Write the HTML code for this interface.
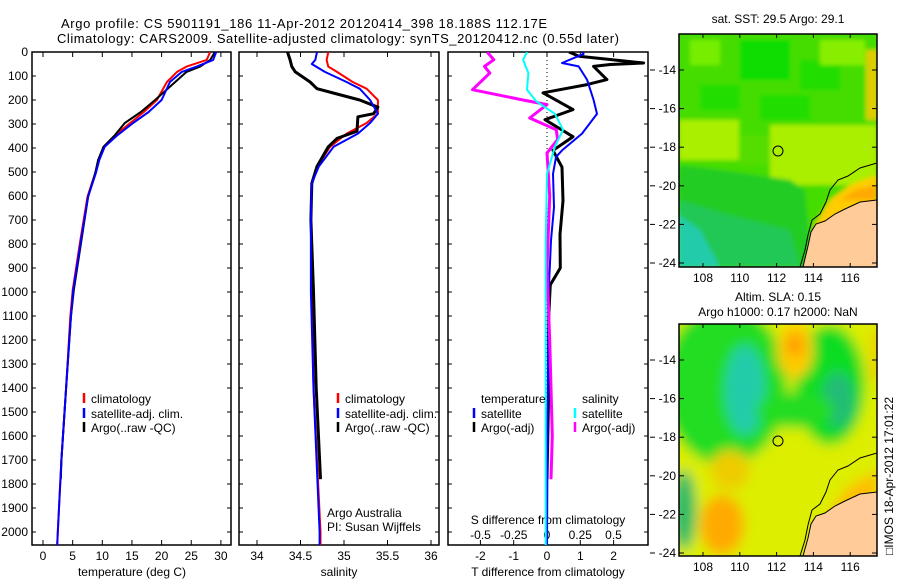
<!DOCTYPE html>
<html><head><meta charset="utf-8"><style>
html,body{margin:0;padding:0;background:#fff;}
svg{display:block;font-family:"Liberation Sans",sans-serif;}
</style></head><body>
<svg id="fig" width="900" height="580" viewBox="0 0 900 580">
<defs>
<filter id="b1" x="-5%" y="-5%" width="110%" height="110%"><feGaussianBlur stdDeviation="2"/></filter>
<filter id="b2" x="-10%" y="-10%" width="120%" height="120%"><feGaussianBlur stdDeviation="6"/></filter>
<clipPath id="cm1"><rect x="679" y="34" width="198" height="233"/></clipPath>
<clipPath id="cm2"><rect x="679" y="324" width="198" height="232"/></clipPath>
<clipPath id="cp1"><rect x="32" y="52" width="199" height="493"/></clipPath>
<clipPath id="cp2"><rect x="239" y="52" width="200" height="493"/></clipPath>
<clipPath id="cp3"><rect x="448" y="52" width="200" height="493"/></clipPath>
</defs>
<g font-size="13" fill="#000">
<text x="61" y="28" textLength="486">Argo profile: CS 5901191_186 11-Apr-2012 20120414_398 18.188S 112.17E</text>
<text x="57" y="43" textLength="562">Climatology: CARS2009. Satellite-adjusted climatology: synTS_20120412.nc (0.55d later)</text>
</g>
<g id="panels"></g>

<!-- top map -->
<g>
<g clip-path="url(#cm1)">
<g filter="url(#b1)">
<rect x="670" y="25" width="215" height="250" fill="#44dd00"/>
<rect x="690" y="40" width="30" height="25" fill="#77ee00"/>
<rect x="740" y="40" width="50" height="40" fill="#11dd00"/>
<rect x="800" y="60" width="40" height="30" fill="#22dd00"/>
<rect x="700" y="85" width="40" height="25" fill="#22dd00"/>
<rect x="820" y="40" width="45" height="25" fill="#88ee00"/>
<rect x="760" y="95" width="50" height="25" fill="#22dd00"/>
<rect x="679" y="120" width="60" height="40" fill="#aaee00"/>
<rect x="770" y="125" width="107" height="60" fill="#aaee00"/>
<rect x="740" y="135" width="30" height="30" fill="#55dd00"/>
<rect x="866" y="50" width="12" height="70" fill="#ddcc00"/>
<polygon points="679,165 720,170 790,180 805,190 812,267 679,267" fill="#22cc22"/>
<polygon points="679,200 730,215 790,230 800,267 679,267" fill="#22c855"/>
<polygon points="679,215 700,230 720,267 679,267" fill="#22ccaa"/>
<polygon points="877,175 850,185 830,200 815,225 808,267 830,267 877,200" fill="#ffcc00"/>
<polygon points="877,185 855,190 840,200 877,200" fill="#ffaa00"/>
</g>
<polygon points="877,200 860,202 845,209 835,214 825,221 816,224 811,232 808,246 803,267 877,267" fill="#ffcc99"/>
<polyline points="877,163 860,168 848,176 838,180 830,190 826,202 820,214 812,220 808,235 805,250 800,267" fill="none" stroke="#000" stroke-width="1"/>
<polyline points="877,200 860,202 845,209 835,214 825,221 816,224 811,232 808,246 803,267" fill="none" stroke="#000" stroke-width="1"/>
</g>
<circle cx="778" cy="151" r="5" fill="none" stroke="#000" stroke-width="1"/>
<rect x="679" y="34" width="198" height="233" fill="none" stroke="#000" stroke-width="1.5"/>
</g>

<!-- bottom map -->
<g>
<g clip-path="url(#cm2)">
<g filter="url(#b2)">
<rect x="660" y="310" width="230" height="260" fill="#ddee00"/>
<ellipse cx="725" cy="385" rx="62" ry="80" fill="#22dd22"/>
<ellipse cx="745" cy="390" rx="20" ry="45" fill="#22ccaa"/>
<ellipse cx="830" cy="385" rx="35" ry="60" fill="#11dd22"/>
<ellipse cx="838" cy="400" rx="16" ry="28" fill="#22bb77"/>
<ellipse cx="795" cy="410" rx="40" ry="18" fill="#22dd22"/>
<ellipse cx="795" cy="350" rx="18" ry="28" fill="#ffcc00"/>
<ellipse cx="795" cy="345" rx="8" ry="12" fill="#ff9900"/>
<rect x="870" y="330" width="10" height="50" fill="#eecc00"/>
<ellipse cx="684" cy="510" rx="12" ry="40" fill="#22bb66"/>
<ellipse cx="722" cy="525" rx="22" ry="30" fill="#ffaa00"/>
<ellipse cx="730" cy="470" rx="20" ry="20" fill="#eecc00"/>
<polygon points="877,470 845,490 820,530 815,556 877,556" fill="#ffbb00"/>
</g>
<polygon points="877,492 860,494 845,501 835,506 825,513 816,516 811,524 808,538 803,556 877,556" fill="#ffcc99"/>
<polyline points="877,453 860,458 848,466 838,470 830,480 826,492 820,504 812,510 808,525 805,540 800,556" fill="none" stroke="#000" stroke-width="1"/>
<polyline points="877,492 860,494 845,501 835,506 825,513 816,516 811,524 808,538 803,556" fill="none" stroke="#000" stroke-width="1"/>
</g>
<circle cx="778" cy="441" r="5" fill="none" stroke="#000" stroke-width="1"/>
<rect x="679" y="324" width="198" height="232" fill="none" stroke="#000" stroke-width="1.5"/>
</g>
<g id="mapaxes" font-size="12"></g>
<text x="778" y="23" font-size="12" text-anchor="middle">sat. SST: 29.5 Argo: 29.1</text>
<text x="778" y="301" font-size="12" text-anchor="middle">Altim. SLA: 0.15</text>
<text x="778" y="316" font-size="12" text-anchor="middle">Argo h1000: 0.17 h2000: NaN</text>
<text transform="translate(893,555) rotate(-90)" font-size="12">□IMOS 18-Apr-2012 17:01:22</text>
</svg>
<script>
// ---- data ----
const depthsClim = [0,33,61,83,125,200,250,296,350,395,450,505,603,783,992,1104,1400,1700,2000,2055];
const tempClim  = [28.2,27.6,24.2,22.6,20.9,19.2,17.0,14.7,12.0,10.2,9.4,8.8,7.5,6.3,5.0,4.6,3.9,3.1,2.5,2.4];
const tempSat   = [29.2,28.7,25.9,23.4,21.4,20.0,17.8,15.2,12.4,10.4,9.5,8.9,7.6,6.4,5.1,4.7,3.9,3.1,2.5,2.4];
const depthsArgo = [0,33,61,83,125,200,250,296,350,395,450,505,603,783,992,1104,1400,1700,1780];
const tempArgo  = [29.0,28.2,26.5,24.2,22.3,18.9,16.5,13.8,12.0,10.2,9.3,8.8,7.6,6.5,5.2,4.7,3.9,3.1,3.0];
const salDepthsClim = [0,33,61,83,125,153,200,257,296,340,395,477,547,700,1000,1400,2000,2055];
const salClim = [34.82,34.80,34.82,34.92,35.10,35.26,35.39,35.39,35.26,35.03,34.84,34.69,34.63,34.62,34.63,34.65,34.73,34.73];
const salDepthsSat = [0,33,50,83,125,153,200,257,296,340,395,477,547,700,1000,1400,2000,2055];
const salSat = [34.69,34.67,34.63,34.78,35.03,35.18,35.30,35.39,35.30,35.16,34.88,34.71,34.63,34.62,34.62,34.65,34.72,34.72];
const salDepthsArgo = [0,33,61,83,125,153,175,200,230,257,270,330,360,395,477,547,700,1000,1400,1700,1780];
const salArgo = [34.35,34.38,34.40,34.44,34.61,34.69,34.92,35.18,35.39,35.34,35.16,35.15,34.92,34.82,34.69,34.63,34.62,34.65,34.68,34.72,34.73];
const dTDepthsSat = [0,8,46,60,115,200,258,340,410,438,508,647,785,1000,1500,2055];
const dTSat = [1.05,1.1,0.45,0.95,1.2,1.4,1.5,1.05,0.45,0.27,0.18,0.21,0.12,0.05,0.02,0.0];
const dTDepthsArgo = [0,18,40,46,52,60,115,136,170,240,282,353,410,480,620,760,900,970,1100,1400,1780];
const dTArgo = [0.66,0.96,2.5,2.9,1.9,1.4,1.8,1.2,-0.12,0.78,-0.06,0.78,0.18,0.45,0.48,0.39,0.4,0.1,0.05,0.05,0.0];
const dSDepthsArgo = [0,32,60,88,157,200,219,275,324,365,421,600,900,1200,1600,1780];
const dSArgo = [-0.45,-0.4,-0.47,-0.43,-0.56,-0.18,0.0,-0.13,0.07,0.08,0.0,0.02,0.0,0.02,0.04,0.03];
const dSDepthsSat = [0,32,88,157,206,258,324,393,508,800,1200,1600,2055];
const dSSat = [-0.15,-0.18,-0.14,-0.15,-0.08,0.06,0.12,0.06,0.0,-0.01,-0.01,-0.01,-0.01];
const depthTicks = [0,100,200,300,400,500,600,700,800,900,1000,1100,1200,1300,1400,1500,1600,1700,1800,1900,2000];
const tempTicks = [0,5,10,15,20,25,30];
const salTicks = [34,34.5,35,35.5,36];
const dTTicks = [-2,-1,0,1,2];
const dSTicks = [-0.5,-0.25,0,0.25,0.5];
const dSTickLabels = ["-0.5","-0.25","0","0.25","0.5"];
const latTicks = [-14,-16,-18,-20,-22,-24];
const lonTicks = [108,110,112,114,116];

// ---- axes ----
const yD = d => 52 + d*0.24;
const xT = t => 43 + t*5.93;
const xS = s => 257 + (s-34)*87;
const xDT = v => 547 + v*33.3;
const xDS = v => 547 + v*133;
const NS='http://www.w3.org/2000/svg';
const G=document.getElementById('panels');
function mk(tag,attrs,parent){const e=document.createElementNS(NS,tag);for(const k in attrs)e.setAttribute(k,attrs[k]);(parent||G).appendChild(e);return e;}
function txt(x,y,s,anchor,size,parent){const t=mk('text',{x:x,y:y,'text-anchor':anchor||'middle','font-size':size||12},parent);t.textContent=s;return t;}

const boxes=[[32,231,'temperature-panel'],[239,439,'salinity-panel'],[448,648,'difference-panel']];
boxes.forEach(b=>{
  const r=mk('rect',{x:b[0],y:52,width:b[1]-b[0],height:493,fill:'none',stroke:'#000','stroke-width':1.5});
  
  
  depthTicks.forEach(d=>{
    mk('line',{x1:b[0],x2:b[0]+4,y1:yD(d),y2:yD(d),stroke:'#000'});
    mk('line',{x1:b[1],x2:b[1]-4,y1:yD(d),y2:yD(d),stroke:'#000'});
  });
});
depthTicks.forEach(d=>{
  const t=txt(28,yD(d)+4,String(d),'end',12);
  
  
});
function xticks(vals,fx,labels,ylab){
  vals.forEach((v,i)=>{
    const x=fx(v);
    mk('line',{x1:x,x2:x,y1:545,y2:540,stroke:'#000'});
    mk('line',{x1:x,x2:x,y1:52,y2:57,stroke:'#000'});
    if(labels){const t=txt(x,ylab,labels[i],'middle',12);
      
      }
  });
}
xticks(tempTicks,xT,tempTicks.map(String),560);
xticks(salTicks,xS,salTicks.map(String),560);
xticks(dTTicks,xDT,dTTicks.map(String),560);
dSTicks.forEach((v,i)=>{const t=txt(xDS(v),539,dSTickLabels[i],'middle',12);
  
  });
[['temperature (deg C)',132,'temperature-axis-title'],['salinity',339,'salinity-axis-title'],['T difference from climatology',548,'t-diff-axis-title']].forEach(a=>{
  const t=txt(a[1],576,a[0],'middle',12);
  
  
});
const sd=txt(548,524,'S difference from climatology','middle',12);


// zero line
mk('line',{x1:547,x2:547,y1:52,y2:545,stroke:'#000','stroke-dasharray':'1,3'});

function series(ds,vs,fx,color,w,clip,name){
  const pts=ds.map((d,i)=>fx(vs[i]).toFixed(1)+','+yD(d).toFixed(1)).join(' ');
  const p=mk('polyline',{points:pts,fill:'none',stroke:color,'stroke-width':w,'clip-path':'url(#'+clip+')','stroke-linejoin':'round'});
  
  
}
series(depthsClim,tempClim,xT,'#ff0000',2,'cp1','temp-climatology-line');
series(depthsArgo,tempArgo,xT,'#000',2,'cp1','temp-argo-line');
series(depthsClim,tempSat,xT,'#0000ff',2,'cp1','temp-satellite-line');
series(salDepthsClim,salClim,xS,'#ff0000',2,'cp2','sal-climatology-line');
series(salDepthsArgo,salArgo,xS,'#000',3,'cp2','sal-argo-line');
series(salDepthsSat,salSat,xS,'#0000ff',2,'cp2','sal-satellite-line');
series(dTDepthsArgo,dTArgo,xDT,'#000',3,'cp3','t-diff-argo-line');
series(dTDepthsSat,dTSat,xDT,'#0000ff',2,'cp3','t-diff-satellite-line');
series(dSDepthsArgo,dSArgo,xDS,'#ff00ff',3,'cp3','s-diff-argo-line');
series(dSDepthsSat,dSSat,xDS,'#00ffff',2,'cp3','s-diff-satellite-line');

function legend(x,y,color,label){
  mk('line',{x1:x,x2:x,y1:y-10,y2:y,stroke:color,'stroke-width':2.5});
  const t=txt(x+7,y,label,'start',12);
  
  
}
legend(84,403,'#ff0000','climatology');
legend(84,418,'#0000ff','satellite-adj. clim.');
legend(84,432,'#000','Argo(..raw -QC)');
legend(338,403,'#ff0000','climatology');
legend(338,418,'#0000ff','satellite-adj. clim.');
legend(338,432,'#000','Argo(..raw -QC)');
const lt=txt(481,403,'temperature','start',12);


const ls=txt(582,403,'salinity','start',12);


legend(474,418,'#0000ff','satellite');
legend(474,432,'#000','Argo(-adj)');
legend(575,418,'#00ffff','satellite');
legend(575,432,'#ff00ff','Argo(-adj)');
const a1=txt(327,517,'Argo Australia','start',12);


const a2=txt(327,531,'PI: Susan Wijffels','start',12);



// map axes
const MA=document.getElementById('mapaxes');
const lonX = l => 703 + (l-108)*18.4;
const latY1 = l => 70 + (-14-l)*19.3;
const latY2 = l => 360 + (-14-l)*19.3;
[[latY1,34,267],[latY2,324,556]].forEach(m=>{
  latTicks.forEach(l=>{
    const y=m[0](l);
    mk('line',{x1:679,x2:684,y1:y,y2:y,stroke:'#000'},MA);
    mk('line',{x1:877,x2:872,y1:y,y2:y,stroke:'#000'},MA);
    mk('line',{x1:650,x2:655,y1:y,y2:y,stroke:'#000'},MA);
    const t=txt(676,y+4,String(l),'end',12,MA);
    
    
  });
  lonTicks.forEach(l=>{
    const x=lonX(l);
    mk('line',{x1:x,x2:x,y1:m[1],y2:m[1]+4,stroke:'#000'},MA);
    mk('line',{x1:x,x2:x,y1:m[2],y2:m[2]-4,stroke:'#000'},MA);
    const t=txt(x,m[2]+15,String(l),'middle',12,MA);
    
    
  });
});
</script>
</body></html>
